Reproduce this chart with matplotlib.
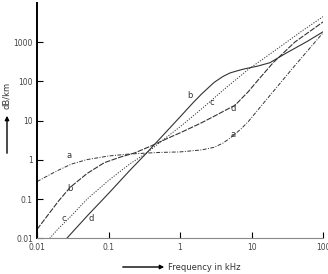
import numpy as np
import matplotlib
matplotlib.use("Agg")
import matplotlib.pyplot as plt
from matplotlib.ticker import FixedLocator, FixedFormatter, NullLocator

# --- 曲線データ ---
freq_a = [0.01, 0.015, 0.02, 0.03, 0.05, 0.1, 0.2, 0.5, 1, 2, 3, 4, 5, 7, 9, 12, 20, 40, 100]
att_a = [0.28, 0.42, 0.55, 0.78, 1.02, 1.26, 1.42, 1.55, 1.6, 1.8, 2.1, 2.7, 3.6, 6, 9.5, 18, 55, 250, 1750]

freq_b = [0.026, 0.05, 0.1, 0.2, 0.34, 0.5, 1, 1.5, 2, 3, 4, 5, 6.5, 8, 12, 18, 30, 60, 100]
att_b = [0.01, 0.037, 0.14, 0.55, 1.5, 3.2, 12.5, 28, 48, 95, 135, 165, 190, 210, 245, 300, 520, 1050, 1850]

freq_c = [0.015, 0.02, 0.029, 0.05, 0.1, 0.2, 0.34, 0.6, 1, 2, 4, 8.9, 20, 50, 100]
att_c = [0.01, 0.018, 0.035, 0.1, 0.3, 0.8, 1.5, 3.4, 7, 20, 60, 200, 570, 1900, 4500]

freq_d = [0.01, 0.015, 0.02, 0.029, 0.05, 0.087, 0.15, 0.23, 0.4, 0.68, 1, 1.96, 3, 5.9, 9, 12.4, 20, 40, 100]
att_d = [0.017, 0.045, 0.09, 0.2, 0.45, 0.85, 1.2, 1.5, 2.3, 3.6, 4.9, 8.7, 13, 25, 55, 110, 300, 1000, 3300]

x_ticks = [0.01, 0.1, 1, 10, 100]
x_labels = ["0.01", "0.1", "1", "10", "100"]
y_ticks = [0.01, 0.1, 1, 10, 100, 1000]
y_labels = ["0.01", "0.1", "1", "10", "100", "1000"]

# 曲線ラベル (文字, 周波数, 減衰)
curve_labels = [
    ("a", 0.028, 1.27), ("b", 0.029, 0.19), ("c", 0.024, 0.033), ("d", 0.057, 0.033),
    ("b", 1.38, 43), ("c", 2.8, 29), ("d", 5.5, 21), ("a", 5.5, 4.4),
]

fig = plt.figure(figsize=(3.28, 2.74), dpi=100)
ax = fig.add_axes([0.113, 0.130, 0.872, 0.859])

ink = "#333333"
ax.plot(freq_a, att_a, color=ink, lw=0.7, ls=(0, (4, 1.5, 1, 1.5)))
ax.plot(freq_b, att_b, color=ink, lw=0.8, ls="-")
ax.plot(freq_c, att_c, color=ink, lw=0.7, ls=(0, (1.2, 1.5)))
ax.plot(freq_d, att_d, color=ink, lw=0.8, ls=(0, (5, 1.2)))

ax.set_xscale("log")
ax.set_yscale("log")
ax.set_xlim(0.01, 100)
ax.set_ylim(0.01, 10000)

ax.xaxis.set_major_locator(FixedLocator(x_ticks))
ax.xaxis.set_major_formatter(FixedFormatter(x_labels))
ax.yaxis.set_major_locator(FixedLocator(y_ticks))
ax.yaxis.set_major_formatter(FixedFormatter(y_labels))
ax.xaxis.set_minor_locator(NullLocator())
ax.yaxis.set_minor_locator(NullLocator())
ax.tick_params(direction="in", length=4, width=0.8, labelsize=5.5, pad=3,
               color="black", labelcolor="#444444")

for s in ["top", "right"]:
    ax.spines[s].set_visible(False)
ax.spines["left"].set_linewidth(1.4)
ax.spines["left"].set_color("black")
ax.spines["bottom"].set_linewidth(0.8)
ax.spines["bottom"].set_color("#888888")

for txt, fx, fy in curve_labels:
    ax.text(fx, fy, txt, fontsize=6, ha="center", va="center", color=ink)

# 軸ラベル（矢印付き）
W, H = 328.0, 274.0
ax.annotate("", xy=(167 / W, 1 - 267 / H), xytext=(120 / W, 1 - 267 / H),
            xycoords="figure fraction", textcoords="figure fraction",
            arrowprops=dict(arrowstyle="-|>", color="black", lw=1.0, mutation_scale=6))
fig.text(168 / W, 1 - 267 / H, "Frequency in kHz", fontsize=6, ha="left", va="center", color=ink)

ax.annotate("", xy=(7 / W, 1 - 113 / H), xytext=(7 / W, 1 - 156 / H),
            xycoords="figure fraction", textcoords="figure fraction",
            arrowprops=dict(arrowstyle="-|>", color="black", lw=1.0, mutation_scale=6))
fig.text(7 / W, 1 - 95 / H, "dB/km", fontsize=6, ha="center", va="center", rotation=90, color=ink)

fig.savefig("out.png", dpi=100)
